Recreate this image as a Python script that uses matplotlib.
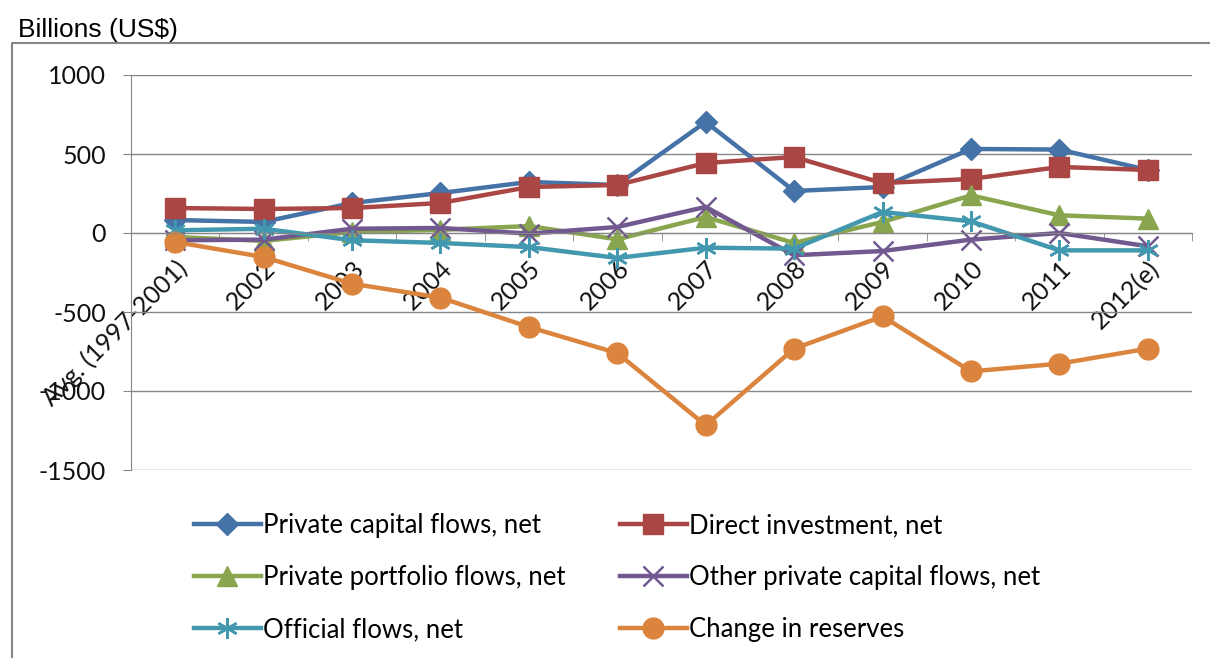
import matplotlib.pyplot as plt
from matplotlib.lines import Line2D

categories = ["Avg. (1997-2001)", "2002", "2003", "2004", "2005", "2006",
              "2007", "2008", "2009", "2010", "2011", "2012(e)"]

private_capital = [82, 70, 190, 253, 323, 304, 703, 266, 291, 532, 528, 399]
direct_investment = [158, 152, 158, 190, 291, 304, 443, 481, 316, 342, 418, 399]
portfolio = [-25, -50, 6, 20, 44, -40, 101, -63, 70, 238, 112, 91]
other_private = [-46, -42, 27, 32, -4, 38, 165, -141, -114, -42, 0, -84]
official = [17, 27, -46, -63, -89, -158, -93, -99, 133, 74, -110, -110]
reserves = [-57, -152, -321, -409, -595, -760, -1217, -732, -528, -876, -827, -732]

yticks = [-1500, -1000, -500, 0, 500, 1000]

GRID = "#868686"
FONT = "Lato"

fig = plt.figure(figsize=(12.1, 6.58), dpi=100)
ax = fig.add_axes([131 / 1210, 1 - 470 / 658, 1061 / 1210, 395 / 658])

x = list(range(len(categories)))
series = [
    ("Private capital flows, net", private_capital, "#4572A7", dict(marker="D", markersize=11)),
    ("Direct investment, net", direct_investment, "#AA4643", dict(marker="s", markersize=14)),
    ("Private portfolio flows, net", portfolio, "#89A54E", dict(marker="^", markersize=14)),
    ("Other private capital flows, net", other_private, "#71588F",
     dict(marker="x", markersize=15, markeredgewidth=1.8)),
    ("Official flows, net", official, "#4198AF",
     dict(marker=(6, 2, 0), markersize=15, markeredgewidth=1.8)),
    ("Change in reserves", reserves, "#DB843D", dict(marker="o", markersize=15)),
]

handles = []
for label, vals, color, mk in series:
    h, = ax.plot(x, vals, color=color, lw=3.2, label=label, markerfacecolor=color,
                 markeredgecolor=color, solid_joinstyle="round", **mk)
    handles.append(h)

ax.set_xlim(-0.5, len(categories) - 0.5)
ax.set_ylim(-1500, 1000)
ax.set_yticks(yticks)
ax.set_yticklabels([str(v) for v in yticks], fontsize=18, family=FONT, color="#111111")
ax.grid(axis="y", color=GRID, lw=1)
ax.set_axisbelow(True)

for s in ["top", "right"]:
    ax.spines[s].set_visible(False)
ax.spines["bottom"].set_position(("data", 0))
ax.spines["bottom"].set_color(GRID)
ax.spines["left"].set_color(GRID)

ax.set_xticks(x)
ax.set_xticklabels(categories, rotation=45, ha="right", rotation_mode="anchor",
                   fontsize=18, family=FONT, color="#111111")
ax.set_xticks([i + 0.5 for i in range(-1, len(categories))], minor=True)
ax.tick_params(axis="x", which="major", length=0, pad=17)
ax.tick_params(axis="x", which="minor", length=6, color=GRID, direction="out")
ax.tick_params(axis="y", length=6, color=GRID, pad=12)

order = [0, 2, 4, 1, 3, 5]
ax.legend([handles[i] for i in order], [series[i][0] for i in order], ncol=2,
          loc="upper left", bbox_to_anchor=(194 / 1210, 1 - 513 / 658),
          bbox_transform=fig.transFigure, frameon=False, prop={"family": FONT, "size": 18.5},
          handlelength=2.6, handletextpad=0.1, labelspacing=1.05, columnspacing=2.1,
          borderpad=0, borderaxespad=0)

# outer chart border (left and top edges visible)
fig.add_artist(Line2D([12 / 1210, 12 / 1210, 1.0], [0.0, 1 - 43 / 658, 1 - 43 / 658],
                      transform=fig.transFigure, color=GRID, lw=1.5))
fig.text(18 / 1210, 1 - 37 / 658, "Billions (US$)", fontsize=19,
         family="Liberation Sans", ha="left", va="baseline")

fig.savefig("out.png", dpi=100)
